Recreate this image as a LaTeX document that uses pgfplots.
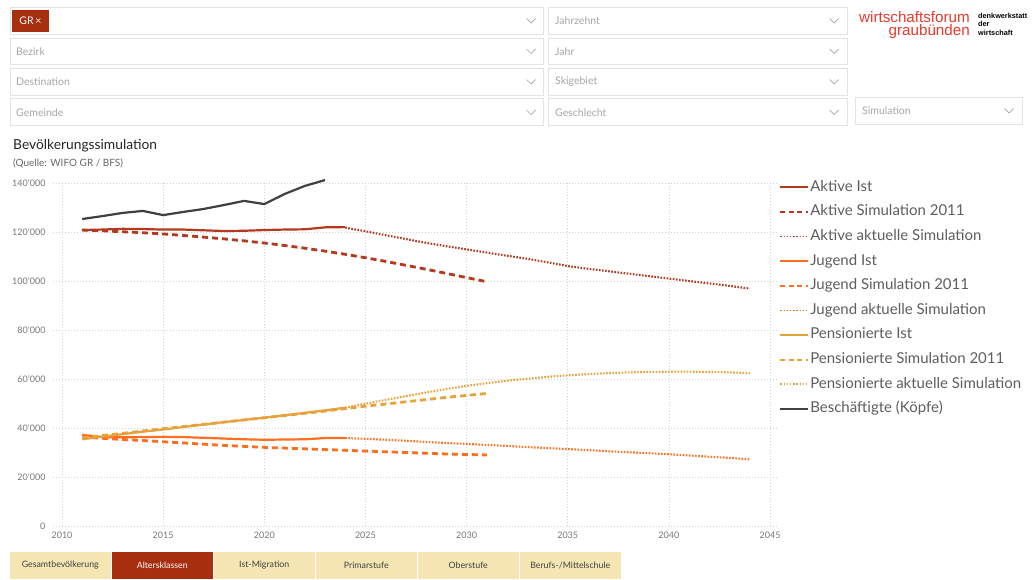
\documentclass[border=0pt]{standalone}
\usepackage{fontspec}
\setmainfont{Lato}
\newfontfamily\logofont{Liberation Sans}
\usepackage{pgfplots}
\usepackage{pgfplotstable}
\pgfplotsset{compat=1.18}

\definecolor{aktiv}{HTML}{B33A1E}
\definecolor{jugend}{HTML}{FF6F1F}
\definecolor{pens}{HTML}{E8A23C}
\definecolor{besch}{HTML}{404040}
\definecolor{tabred}{HTML}{A82E10}
\definecolor{tabbeige}{HTML}{F5E6B4}
\definecolor{boxgray}{HTML}{E3E3E3}
\definecolor{phgray}{HTML}{A6A6A6}
\definecolor{logored}{HTML}{E63B2E}
\definecolor{legtext}{HTML}{605E5C}
\definecolor{ticktext}{HTML}{777777}

\pgfplotsset{
  ist/.style={color=#1, line width=2.2pt,
    legend image code/.code={\draw[#1, line width=2pt, solid] (0pt,0pt) -- (28pt,0pt);}},
  sima/.style={color=#1, line width=2.8pt, dash pattern=on 6pt off 4pt,
    legend image code/.code={\draw[#1, line width=2pt, dash pattern=on 5pt off 3.5pt] (0pt,0pt) -- (28pt,0pt);}},
  simb/.style={color=#1, line width=2.1pt, dash pattern=on 1.6pt off 1.5pt,
    legend image code/.code={\draw[#1, line width=1.6pt, dash pattern=on 1.4pt off 1.8pt] (0pt,0pt) -- (28pt,0pt);}},
}

\pgfplotstableread{
x y
2011 120800
2012 121000
2013 121300
2014 121200
2015 121000
2016 121000
2017 120700
2018 120400
2019 120500
2020 120800
2021 121000
2022 121100
2023 121900
2024 122000
}\aktivIst
\pgfplotstableread{
x y
2011 120800
2012 120500
2013 120100
2014 119700
2015 119200
2016 118600
2017 117900
2018 117200
2019 116400
2020 115500
2021 114500
2022 113400
2023 112200
2024 110900
2025 109500
2026 108000
2027 106400
2028 104800
2029 103100
2030 101400
2031 99700
}\aktivSimA
\pgfplotstableread{
x y
2024 121800
2025 120300
2026 118700
2027 117100
2028 115600
2029 114200
2030 112900
2031 111600
2032 110300
2033 109100
2034 107600
2035 106100
2036 105000
2037 104000
2038 103000
2039 102000
2040 101000
2041 100000
2042 99000
2043 98000
2044 96900
}\aktivSimB
\pgfplotstableread{
x y
2011 37200
2012 36300
2013 36200
2014 36300
2015 36400
2016 36300
2017 36000
2018 35700
2019 35400
2020 35200
2021 35300
2022 35400
2023 35900
2024 35900
}\jugendIst
\pgfplotstableread{
x y
2011 36300
2012 35800
2013 35300
2014 34900
2015 34400
2016 33900
2017 33400
2018 32900
2019 32500
2020 32100
2021 31800
2022 31500
2023 31200
2024 30900
2025 30600
2026 30300
2027 30000
2028 29700
2029 29400
2030 29200
2031 29000
}\jugendSimA
\pgfplotstableread{
x y
2024 35900
2025 35600
2026 35200
2027 34800
2028 34300
2029 33900
2030 33500
2031 33100
2032 32700
2033 32200
2034 31800
2035 31400
2036 31000
2037 30500
2038 30100
2039 29700
2040 29300
2041 28800
2042 28300
2043 27800
2044 27200
}\jugendSimB
\pgfplotstableread{
x y
2011 35400
2012 36500
2013 37500
2014 38500
2015 39400
2016 40400
2017 41400
2018 42400
2019 43300
2020 44200
2021 45200
2022 46200
2023 47200
2024 48300
}\pensIst
\pgfplotstableread{
x y
2011 36000
2012 36900
2013 37800
2014 38800
2015 39700
2016 40600
2017 41500
2018 42400
2019 43300
2020 44200
2021 45100
2022 46000
2023 46900
2024 47900
2025 48900
2026 49800
2027 50700
2028 51600
2029 52500
2030 53300
2031 54100
}\pensSimA
\pgfplotstableread{
x y
2024 48300
2025 49900
2026 51500
2027 53000
2028 54500
2029 55900
2030 57200
2031 58300
2032 59300
2033 60100
2034 60900
2035 61500
2036 62000
2037 62400
2038 62700
2039 62900
2040 63000
2041 63000
2042 62900
2043 62700
2044 62400
}\pensSimB
\pgfplotstableread{
x y
2011 125300
2012 126500
2013 127800
2014 128600
2015 126900
2016 128200
2017 129400
2018 131000
2019 132700
2020 131400
2021 135500
2022 138800
2023 141200
}\besch

\begin{document}
\begin{tikzpicture}
\path[use as bounding box] (0pt,0pt) rectangle (1035pt,-579pt);
\fill[white] (0pt,0pt) rectangle (1035pt,-579pt);

\begin{scope}[x=1pt,y=-1pt]
  % filter boxes
  \foreach \ya/\yb in {7/34,38/64,68/95,98/125}{
    \draw[boxgray,fill=white] (10,\ya) rectangle (543,\yb);
    \draw[boxgray,fill=white] (548,\ya) rectangle (847,\yb);
  }
  \draw[boxgray,fill=white] (855,97) rectangle (1022,124);
  % chevrons
  \foreach \cx/\cy in {531/20.5,531/51,531/81.5,531/112,834/20.5,834/51,834/81.5,834/112,1009/110.5}{
    \draw[phgray,line width=0.7pt] (\cx-4.5,\cy-2) -- (\cx,\cy+2.5) -- (\cx+4.5,\cy-2);
  }
  % placeholders
  \begin{scope}[every node/.style={anchor=west,text=phgray,font=\fontsize{10.5}{12}\selectfont,inner sep=0pt}]
    \node at (16,51.5) {Bezirk};
    \node at (16,82) {Destination};
    \node at (16,112.5) {Gemeinde};
    \node at (555,21) {Jahrzehnt};
    \node at (555,51.5) {Jahr};
    \node at (555,82) {Skigebiet};
    \node at (555,112.5) {Geschlecht};
    \node at (862,111) {Simulation};
  \end{scope}
  % GR tag
  \fill[tabred] (12,10) rectangle (49,32);
  \node[text=white,font=\fontsize{10.5}{12}\selectfont,inner sep=0pt] at (30.5,21) {GR\,×};
  % logo
  \node[anchor=base east,text=logored,font=\logofont\fontsize{15.2}{16}\selectfont,inner sep=0pt] at (970,22) {wirtschaftsforum};
  \node[anchor=base east,text=logored,font=\logofont\fontsize{15.2}{16}\selectfont,inner sep=0pt] at (970,35.5) {graubünden};
  \begin{scope}[every node/.style={anchor=base west,text=black,font=\logofont\bfseries\fontsize{7.3}{8}\selectfont,inner sep=0pt}]
    \node at (978,18) {denkwerkstatt};
    \node at (978,26.5) {der};
    \node at (978,35) {wirtschaft};
  \end{scope}
  % title
  \node[anchor=base west,text=black!85,font=\fontsize{13.8}{15}\selectfont,inner sep=0pt] at (13,149.5) {Bevölkerungssimulation};
  \node[anchor=base west,text=black!60,font=\fontsize{10}{11}\selectfont,inner sep=0pt] at (13,166) {(Quelle: WIFO GR / BFS)};
  % tabs
  \foreach \xa/\lab in {10/{Gesamtbevölkerung},214/{Ist-Migration},316/{Primarstufe},418/{Oberstufe},520/{Berufs-/Mittelschule}}{
    \fill[tabbeige] (\xa,551.5) rectangle (\xa+100.5,579);
    \node[text=black!75,font=\fontsize{8.8}{10}\selectfont,inner sep=0pt] at (\xa+50.25,565.5) {\lab};
  }
  \fill[tabred] (112,551.5) rectangle (212.5,579);
  \node[text=white,font=\fontsize{8.8}{10}\selectfont,inner sep=0pt] at (162.25,565.5) {Altersklassen};
\end{scope}

\begin{axis}[
  at={(53pt,-526pt)}, anchor=south west,
  scale only axis, width=723.1pt, height=343pt,
  xmin=2009.555, xmax=2045.3, ymin=0, ymax=140000,
  scaled y ticks=false, scaled x ticks=false,
  axis line style={draw=none}, tick style={draw=none},
  xtick={2010,2015,2020,2025,2030,2035,2040,2045},
  xticklabels={2010,2015,2020,2025,2030,2035,2040,2045},
  ytick={0,20000,40000,60000,80000,100000,120000,140000},
  yticklabels={0,20'000,40'000,60'000,80'000,100'000,120'000,140'000},
  grid=major,
  grid style={dash pattern=on 1pt off 2pt, color=black!18, line width=0.7pt},
  tick label style={font=\fontsize{9}{11}\selectfont, text=ticktext},
  xticklabel style={yshift=-2.5pt},
  yticklabel style={xshift=-4pt},
  clip=false,
  legend cell align=left,
  legend style={at={(1,1)}, anchor=north west, xshift=0pt, yshift=6pt,
    draw=none, fill=none, font=\fontsize{15}{17}\selectfont, text=legtext,
    row sep=8.1pt, nodes={inner sep=1pt, text height=11pt, text depth=3.5pt}},
]
\addplot[ist=aktiv] table {\aktivIst};
\addlegendentry{Aktive Ist}
\addplot[sima=aktiv] table {\aktivSimA};
\addlegendentry{Aktive Simulation 2011}
\addplot[simb=aktiv] table {\aktivSimB};
\addlegendentry{Aktive aktuelle Simulation}
\addplot[ist=jugend] table {\jugendIst};
\addlegendentry{Jugend Ist}
\addplot[sima=jugend] table {\jugendSimA};
\addlegendentry{Jugend Simulation 2011}
\addplot[simb=jugend] table {\jugendSimB};
\addlegendentry{Jugend aktuelle Simulation}
\addplot[ist=pens] table {\pensIst};
\addlegendentry{Pensionierte Ist}
\addplot[sima=pens] table {\pensSimA};
\addlegendentry{Pensionierte Simulation 2011}
\addplot[simb=pens] table {\pensSimB};
\addlegendentry{Pensionierte aktuelle Simulation}
\addplot[ist=besch] table {\besch};
\addlegendentry{Beschäftigte (Köpfe)}
\end{axis}
\end{tikzpicture}
\end{document}
